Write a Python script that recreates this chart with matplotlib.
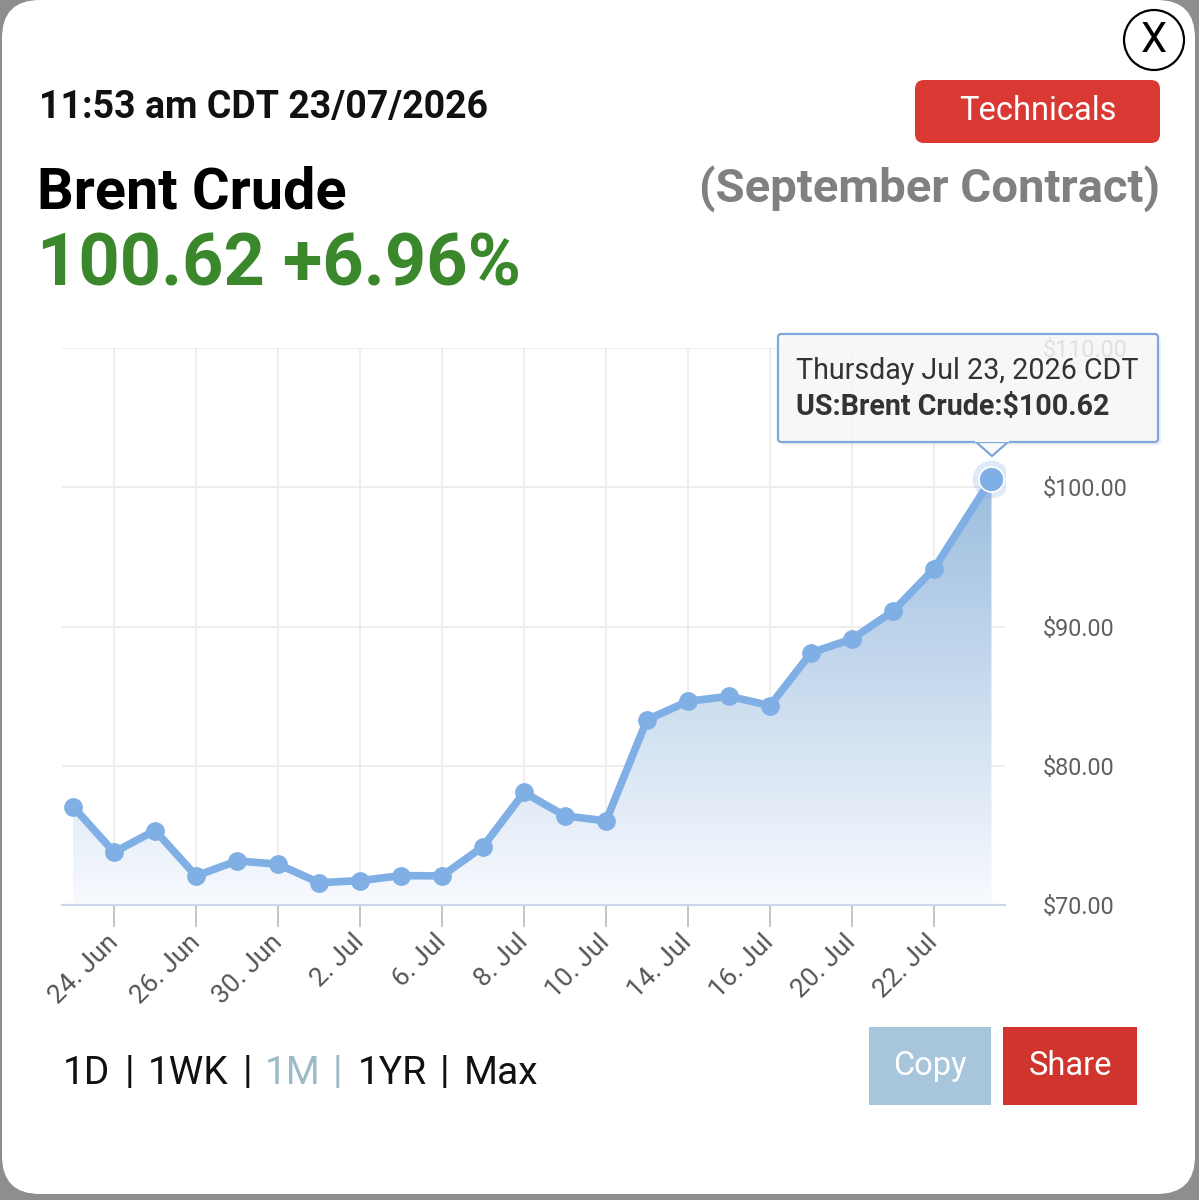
import numpy as np
import matplotlib
matplotlib.use("Agg")
from matplotlib import pyplot as plt
from matplotlib.patches import FancyBboxPatch, Circle, Polygon, Rectangle
from matplotlib.colors import LinearSegmentedColormap

plt.rcParams['font.family'] = ['Roboto', 'DejaVu Sans']

# data (Brent Crude, September contract)
dates = ["23. Jun", "24. Jun", "25. Jun", "26. Jun", "29. Jun", "30. Jun",
         "1. Jul", "2. Jul", "3. Jul", "6. Jul", "7. Jul", "8. Jul", "9. Jul",
         "10. Jul", "13. Jul", "14. Jul", "15. Jul", "16. Jul", "17. Jul",
         "20. Jul", "21. Jul", "22. Jul", "23. Jul"]
prices = [77.07, 73.79, 75.35, 72.09, 73.17, 72.93, 71.60, 71.75, 72.11,
          72.09, 74.20, 78.08, 76.40, 76.04, 83.31, 84.63, 84.99, 84.32,
          88.11, 89.11, 91.10, 94.15, 100.62]
y_ticks = [70, 80, 90, 100, 110]
ranges = ["1D", "1WK", "1M", "1YR", "Max"]

x = np.arange(len(prices), dtype=float)
x[-1] = 22.4   # live intraday point sits a bit further right
tick_idx = list(range(1, 22, 2))

W, H = 1199, 1200
fig = plt.figure(figsize=(W / 100, H / 100), dpi=100)
fig.patch.set_facecolor("#8e8e8e")

# ---- card background / ui layer (pixel coords)
ui = fig.add_axes([0, 0, 1, 1], zorder=0)
ui.set_xlim(0, W)
ui.set_ylim(H, 0)
ui.axis("off")
ui.add_patch(FancyBboxPatch((2, 0), W - 6, H - 6, boxstyle="round,pad=0,rounding_size=38",
                            fc="white", ec="none"))

ui.text(39, 107, "11:53 am CDT 23/07/2026", fontsize=27, fontweight="bold",
        color="#111111", va="center", ha="left")
ui.text(37, 193, "Brent Crude", fontsize=41.5, fontweight="bold", color="#000000",
        va="center", ha="left")
ui.text(37, 266, "100.62 +6.96%", fontsize=52, fontweight="bold", color="#3a872c",
        va="center", ha="left")
ui.text(1160, 189, "(September Contract)", fontsize=34, fontweight="bold",
        color="#808080", va="center", ha="right")

ui.add_patch(FancyBboxPatch((915, 80), 245, 63, boxstyle="round,pad=0,rounding_size=9",
                            fc="#d93833", ec="none"))
ui.text(1038, 111, "Technicals", fontsize=23.5, color="white", va="center", ha="center")

ui.add_patch(Circle((1154, 40), 30, fc="white", ec="black", lw=1.6))
ui.text(1154, 41, "X", fontsize=30, color="black", va="center", ha="center")

# range selector
rx = [63, 148, 265, 358, 464]
sep_x = [125, 243, 333, 440]
for lab, px in zip(ranges, rx):
    c = "#9dbac8" if lab == "1M" else "#111111"
    ui.text(px, 1073, lab, fontsize=28, color=c, va="center", ha="left")
for i, px in enumerate(sep_x):
    c = "#9dbac8" if i == 2 else "#111111"
    ui.text(px, 1073, "|", fontsize=28, color=c, va="center", ha="left")

ui.add_patch(Rectangle((869, 1027), 122, 78, fc="#a7c6dc", ec="none"))
ui.text(930, 1066, "Copy", fontsize=23.5, color="white", va="center", ha="center")
ui.add_patch(Rectangle((1003, 1027), 134, 78, fc="#d0352d", ec="none"))
ui.text(1070, 1066, "Share", fontsize=23.5, color="white", va="center", ha="center")

# ---- chart
left, right, bot, top = 62, 1005, 905, 348
ax = fig.add_axes([left / W, 1 - bot / H, (right - left) / W, (bot - top) / H], zorder=1)
ax.patch.set_alpha(0)

line_c = "#7fafe4"
fill_poly = ax.fill_between(x, prices, 70, color="none", lw=0)
grad = np.linspace(0, 1, 256).reshape(-1, 1)
cmap = LinearSegmentedColormap.from_list("g", ["#f8fafe", "#9bbddf"])
img = ax.imshow(grad, cmap=cmap, aspect="auto", origin="lower",
                extent=[x[0], x[-1], 70, max(prices)], zorder=1)
img.set_clip_path(fill_poly.get_paths()[0], transform=ax.transData)
ax.set_xlim(-0.27, 22.73)
ax.set_ylim(70, 110)

ax.plot(x, prices, color=line_c, lw=5.5, zorder=3, solid_joinstyle="round")
ax.plot(x[:-1], prices[:-1], "o", color=line_c, ms=12.5, zorder=4)
ax.plot(x[-1], prices[-1], "o", color=line_c, ms=27, alpha=0.25, mec="none", zorder=4)
ax.plot(x[-1], prices[-1], "o", color=line_c, ms=18, mec="white", mew=1.2, zorder=5)

ax.set_yticks(y_ticks)
ax.set_yticklabels([f"${v:.2f}" for v in y_ticks])
ax.yaxis.tick_right()
ax.tick_params(axis="y", length=0, pad=27, labelsize=16.8, labelcolor="#606060")
ax.set_xticks(tick_idx)
ax.set_xticklabels([dates[i] for i in tick_idx], rotation=45, ha="right",
                   rotation_mode="anchor", va="center")
ax.tick_params(axis="x", length=16, width=1.4, color="#c4c4c4", pad=8,
               labelsize=19, labelcolor="#555555")
ax.grid(True, color="#eeeeee", lw=1.4, zorder=0)
ax.set_axisbelow(True)
for s in ["top", "right", "left"]:
    ax.spines[s].set_visible(False)
ax.spines["bottom"].set_color("#ccd6eb")
ax.spines["bottom"].set_linewidth(1.6)

# ---- tooltip layer (sits over the $110.00 label, as in the app)
tip = fig.add_axes([0, 0, 1, 1], zorder=3)
tip.set_xlim(0, W)
tip.set_ylim(H, 0)
tip.axis("off")
tip.add_patch(FancyBboxPatch((781, 337), 380, 108, boxstyle="round,pad=0,rounding_size=3",
                             fc=(0, 0, 0, 0.06), ec="none"))
tip.add_patch(FancyBboxPatch((778, 334), 380, 108, boxstyle="round,pad=0,rounding_size=3",
                             fc=(0.975, 0.975, 0.975, 0.85), ec="#7fa9da", lw=1.6))
tip.add_patch(Polygon([(976, 442), (992, 456), (1008, 442)], closed=True,
                      fc=(0.975, 0.975, 0.975, 0.95), ec="#7fa9da", lw=1.6))
tip.add_patch(Rectangle((975, 439), 34, 3, fc=(0.975, 0.975, 0.975), ec="none"))
tip.text(796, 371, "Thursday Jul 23, 2026 CDT", fontsize=20.6, color="#333333",
         va="center", ha="left")
tip.text(796, 407, "US:Brent Crude:$100.62", fontsize=20.6, fontweight="bold",
         color="#333333", va="center", ha="left")

fig.savefig("out.png", dpi=100)
